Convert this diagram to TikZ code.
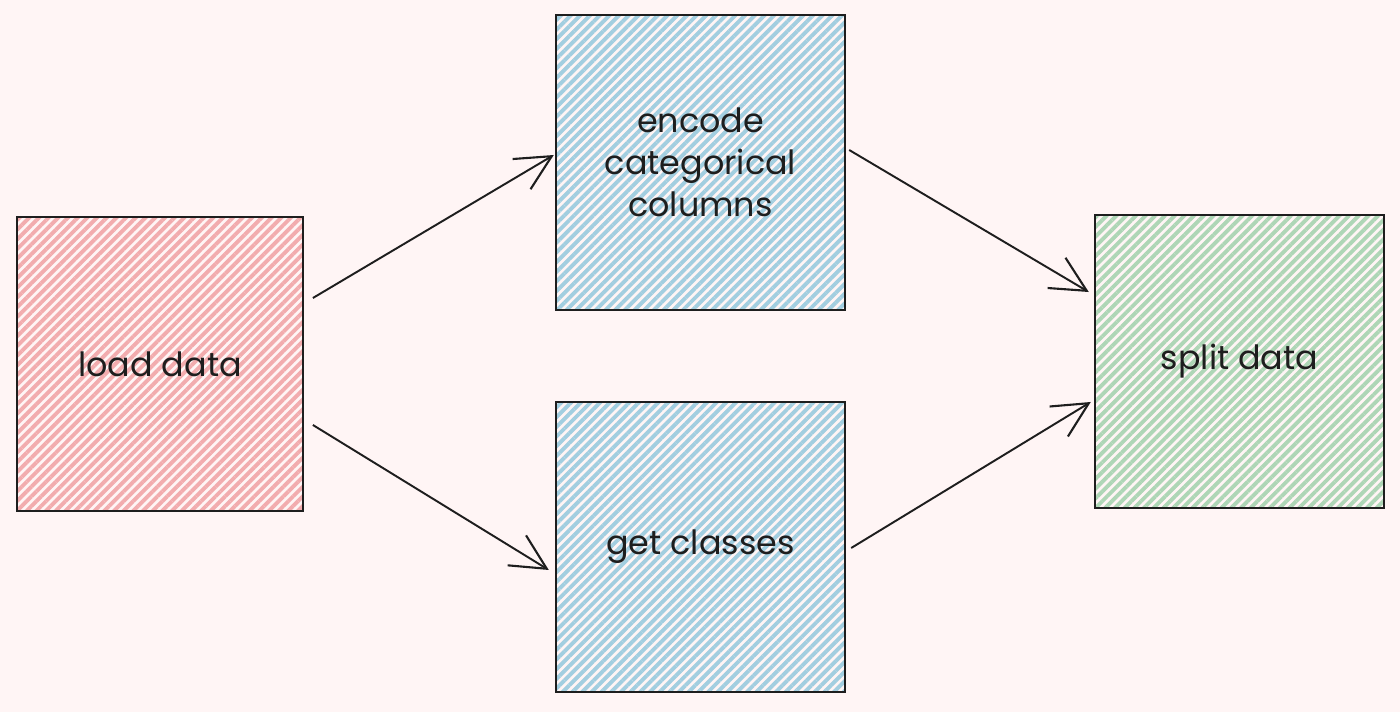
\documentclass[tikz,border=0pt]{standalone}
\usepackage{fontspec}
\setmainfont{Poppins}
\usetikzlibrary{arrows.meta,patterns.meta,calc}
\definecolor{bg}{RGB}{255,245,245}
\definecolor{ink}{RGB}{30,30,30}
\definecolor{pinkh}{RGB}{242,172,174}
\definecolor{blueh}{RGB}{162,206,224}
\definecolor{greenh}{RGB}{174,214,182}
\tikzset{
  box/.style={draw=ink, line width=1.4pt, inner sep=0pt, align=center,
    font=\fontsize{19}{24}\selectfont, text=ink,
    pattern={Lines[angle=45,distance=3.9pt,line width=2.2pt]}},
  arr/.style={draw=ink, line width=1.1pt, -{Straight Barb[length=20pt,width=20pt,line width=1.2pt]}}
}
\begin{document}
\begin{tikzpicture}[x=0.02cm,y=-0.02cm]
\fill[bg] (0,0) rectangle (1400,712);
\useasboundingbox (0,0) rectangle (1400,712);
\node[box, pattern color=pinkh, minimum width=5.72cm, minimum height=5.88cm] (load) at (160,364) {load data};
\node[box, pattern color=blueh, minimum width=5.78cm, minimum height=5.90cm] (enc) at (700.5,162.5) {encode\\categorical\\columns};
\node[box, pattern color=blueh, minimum width=5.78cm, minimum height=5.80cm] (get) at (700.5,547) {get classes};
\node[box, pattern color=greenh, minimum width=5.78cm, minimum height=5.86cm] (split) at (1239.5,361.5) {split data};
\draw[arr] ([xshift=0.16cm,yshift=1.32cm]load.east) -- ([xshift=-0.02cm,yshift=0.15cm]enc.west);
\draw[arr] ([xshift=0.16cm,yshift=-1.22cm]load.east) -- ([xshift=-0.12cm,yshift=-0.46cm]get.west);
\draw[arr] ([xshift=0.06cm,yshift=0.25cm]enc.east) -- ([xshift=-0.1cm,yshift=1.39cm]split.west);
\draw[arr] ([xshift=0.1cm,yshift=-0.02cm]get.east) -- ([xshift=-0.06cm,yshift=-0.81cm]split.west);
\end{tikzpicture}
\end{document}
